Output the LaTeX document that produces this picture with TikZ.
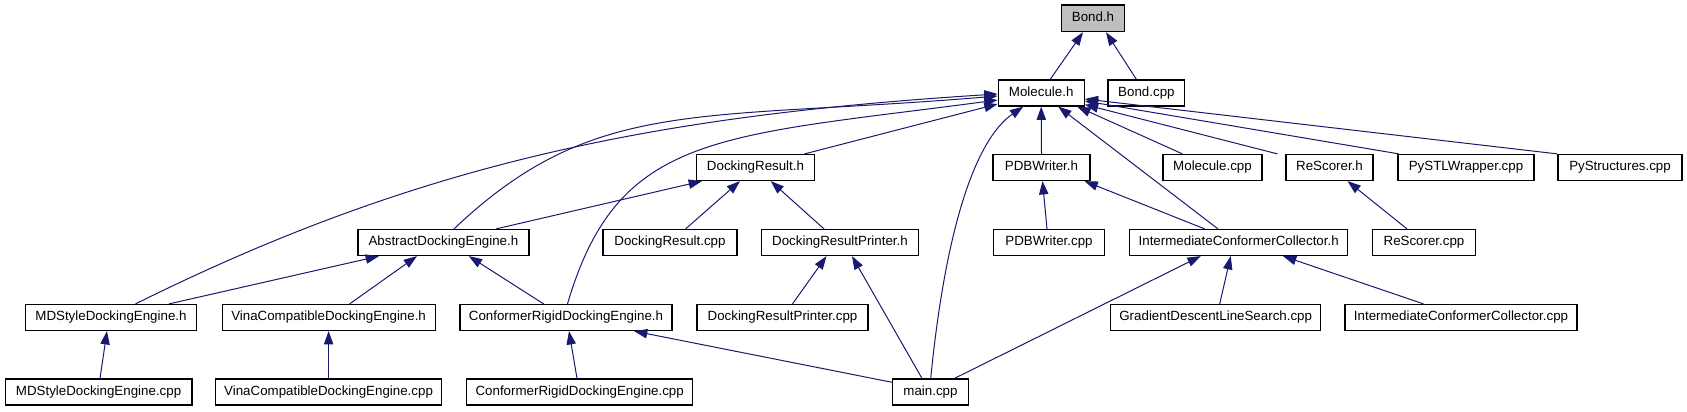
\documentclass[tikz,border=0pt]{standalone}
\usepackage{fontspec}
\setmainfont{Liberation Sans}
\usetikzlibrary{arrows.meta,calc}
\definecolor{edgeblue}{RGB}{25,25,112}
\definecolor{rootgray}{RGB}{191,191,191}
\begin{document}
\begin{tikzpicture}[x=0.75pt,y=-0.75pt,
  box/.style={draw=black, line width=0.9pt, fill=white, rectangle, inner xsep=0pt, inner ysep=0pt,
    minimum height=19.5pt, font=\fontsize{10pt}{12pt}\selectfont, text height=7.2pt, text depth=2pt},
  rootbox/.style={box, fill=rootgray, minimum height=20pt},
  edge/.style={draw=edgeblue, line width=0.75pt, -{Triangle[length=10pt,width=7pt]}}]
\fill[white] (0,0) rectangle (1687,411);
\useasboundingbox (0,0) rectangle (1687,411);
% row 0
\node[rootbox, minimum width=47pt] (bondh) at (1093,18.3) {Bond.h};
% row 1
\node[box, minimum width=64.5pt] (mol) at (1041.2,93) {Molecule.h};
\node[box, minimum width=57.5pt] (bondcpp) at (1146.4,93) {Bond.cpp};
% row 2
\node[box, minimum width=88.5pt] (drh) at (755.5,167.5) {DockingResult.h};
\node[box, minimum width=72.75pt] (pdbh) at (1041.5,167.5) {PDBWriter.h};
\node[box, minimum width=74.25pt] (molcpp) at (1212.5,167.5) {Molecule.cpp};
\node[box, minimum width=65.25pt] (rsh) at (1329.5,167.5) {ReScorer.h};
\node[box, minimum width=102pt] (pystl) at (1466,167.5) {PySTLWrapper.cpp};
\node[box, minimum width=93pt] (pystr) at (1620,167.5) {PyStructures.cpp};
% row 3
\node[box, minimum width=128.25pt] (absh) at (443.4,242.5) {AbstractDockingEngine.h};
\node[box, minimum width=100.5pt] (drcpp) at (670,242.5) {DockingResult.cpp};
\node[box, minimum width=117.75pt] (drph) at (840,242.5) {DockingResultPrinter.h};
\node[box, minimum width=83.25pt] (pdbcpp) at (1049,242.5) {PDBWriter.cpp};
\node[box, minimum width=163.5pt] (icch) at (1238.7,242.5) {IntermediateConformerCollector.h};
\node[box, minimum width=77pt] (rscpp) at (1424,242.5) {ReScorer.cpp};
% row 4
\node[box, minimum width=128.25pt] (mdh) at (111,317.5) {MDStyleDockingEngine.h};
\node[box, minimum width=159.75pt] (vinah) at (328.6,317.5) {VinaCompatibleDockingEngine.h};
\node[box, minimum width=159pt] (crh) at (566,317.5) {ConformerRigidDockingEngine.h};
\node[box, minimum width=128.25pt] (drpcpp) at (782.5,317.5) {DockingResultPrinter.cpp};
\node[box, minimum width=157.5pt] (gdls) at (1215.7,317.5) {GradientDescentLineSearch.cpp};
\node[box, minimum width=174pt] (icccpp) at (1461,317.5) {IntermediateConformerCollector.cpp};
% row 5
\node[box, minimum width=140pt] (mdcpp) at (98.6,392) {MDStyleDockingEngine.cpp};
\node[box, minimum width=169.5pt] (vinacpp) at (328.6,392) {VinaCompatibleDockingEngine.cpp};
\node[box, minimum width=169.5pt] (crcpp) at (579.7,392) {ConformerRigidDockingEngine.cpp};
\node[box, minimum width=56.7pt] (main) at (930.5,392) {main.cpp};
% edges to Bond.h
\draw[edge] ($(mol.north)+(9,0)$) -- ($(bondh.south)+(-10,0)$);
\draw[edge] ($(bondcpp.north)+(-10,0)$) -- ($(bondh.south)+(13,0)$);
% edges to Molecule.h
\draw[edge] ($(mdh.north)+(24.5,0)$) .. controls (415.5,165) and (648,116) .. ($(mol.west)+(0,1)$);
\draw[edge] ($(absh.north)+(10.6,0)$) .. controls (594,96) and (698,121) .. ($(mol.west)+(0,3)$);
\draw[edge] ($(crh.north)+(1.5,0)$) .. controls (618,132) and (718,137) .. ($(mol.west)+(0,7)$);
\draw[edge] ($(drh.north)+(49,0)$) -- ($(mol.west)+(0,11)$);
\draw[edge] ($(main.north)+(0.2,0)$) .. controls (945.5,229) and (975,140) .. ($(mol.south)+(-18,0)$);
\draw[edge] (pdbh.north) -- (mol.south);
\draw[edge] ($(icch.north)+(-20.7,0)$) -- ($(mol.south)+(17,0)$);
\draw[edge] ($(molcpp.north)+(-30,0)$) -- ($(mol.south)+(36,0)$);
\draw[edge] ($(rsh.north)+(-52,0)$) -- ($(mol.south east)+(0,-2)$);
\draw[edge] ($(pystl.north west)+(1.5,0)$) -- ($(mol.east)+(0,8)$);
\draw[edge] (pystr.north west) -- ($(mol.east)+(0,6)$);
% edges to DockingResult.h
\draw[edge] ($(absh.north)+(52.6,0)$) -- ($(drh.south)+(-53.5,0)$);
\draw[edge] ($(drcpp.north)+(15.6,0)$) -- ($(drh.south)+(-15.5,0)$);
\draw[edge] ($(drph.north)+(-16,0)$) -- ($(drh.south)+(15.2,0)$);
% edges to PDBWriter.h
\draw[edge] ($(pdbcpp.north)+(-2,0)$) -- ($(pdbh.south)+(1,0)$);
\draw[edge] ($(icch.north)+(-34,0)$) -- ($(pdbh.south)+(43,0)$);
% edges to ReScorer.h
\draw[edge] ($(rscpp.north)+(-17,0)$) -- ($(rsh.south)+(18,0)$);
% edges to AbstractDockingEngine.h
\draw[edge] ($(mdh.north)+(58,0)$) -- ($(absh.south)+(-64.4,0)$);
\draw[edge] ($(vinah.north)+(21,0)$) -- ($(absh.south)+(-26.4,0)$);
\draw[edge] ($(crh.north)+(-22.4,0)$) -- ($(absh.south)+(25.4,0)$);
% edges to DockingResultPrinter.h
\draw[edge] ($(drpcpp.north)+(10,0)$) -- ($(drph.south)+(-13.5,0)$);
\draw[edge] ($(main.north)+(-8.5,0)$) -- ($(drph.south)+(12,0)$);
% edges to IntermediateConformerCollector.h
\draw[edge] ($(main.north)+(24,0)$) -- ($(icch.south)+(-38,0)$);
\draw[edge] ($(gdls.north)+(4,0)$) -- ($(icch.south)+(-8,0)$);
\draw[edge] ($(icccpp.north)+(-37.5,0)$) -- ($(icch.south)+(44.3,0)$);
% edges to row 4 headers
\draw[edge] ($(main.west)+(0,-9.7)$) -- ($(crh.south)+(68,0)$);
\draw[edge] ($(crcpp.north)+(-2.7,0)$) -- ($(crh.south)+(3,0)$);
\draw[edge] ($(mdcpp.north)+(1.4,0)$) -- ($(mdh.south)+(-4,0)$);
\draw[edge] (vinacpp.north) -- (vinah.south);
\end{tikzpicture}
\end{document}
